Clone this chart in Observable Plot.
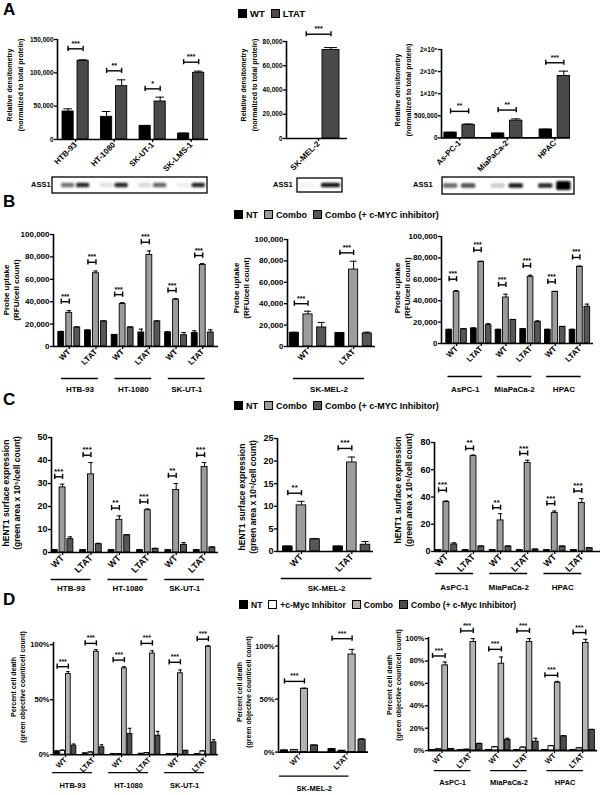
<!DOCTYPE html>
<html><head><meta charset="utf-8">
<script src="https://cdn.jsdelivr.net/npm/d3@7"></script>
<script src="https://cdn.jsdelivr.net/npm/@observablehq/plot@0.6"></script>
<style>
body{margin:0;background:#fff;}
#root{position:relative;width:600px;height:795px;overflow:hidden;font-family:"Liberation Sans",Arial,Helvetica,sans-serif;font-weight:bold;color:#000;background:#fff;}
.legend{display:flex;align-items:center;white-space:nowrap;height:10px;}
.sw{width:7px;height:7px;border:1.2px solid #000;margin-right:3px;}
.lab{margin-right:6px;}
.ytitle{position:absolute;transform:translate(-50%,-50%) rotate(-90deg);white-space:nowrap;text-align:center;}
.letter{position:absolute;font-size:17px;line-height:17px;}
</style></head><body><div id="root"></div><script>
const FONT='"Liberation Sans", Arial, Helvetica, sans-serif';

// ================= DATA =================
// Panel A: ASS1 relative densitometry (WT vs LTAT)
const A1_cells=["HTB-93","HT-1080","SK-UT-1","SK-LMS-1"];
const A1_WT=[42000,34000,20500,9000];
const A1_WT_err=[4000,8000,500,400];
const A1_LTAT=[118000,80000,57000,100000];
const A1_LTAT_err=[1500,9500,6500,2500];
const A1_sig=["***","**","*","***"];
const A1_bracket=[136000,103000,76000,116000];
const A1_blot=[[0.55,0.85],[0.12,0.85],[0.15,0.6],[0.07,0.85]];

const A2_cells=["SK-MEL-2"];
const A2_WT=[0];
const A2_WT_err=[0];
const A2_LTAT=[73000];
const A2_LTAT_err=[2000];
const A2_sig=["***"];
const A2_bracket=[86000];
const A2_blot=[[0.05,0.9]];

const A3_cells=["As-PC-1","MiaPaCa-2","HPAC"];
const A3_WT=[120000,100000,190000];
const A3_WT_err=[6000,5000,6000];
const A3_LTAT=[295000,390000,1400000];
const A3_LTAT_err=[20000,40000,110000];
const A3_sig=["**","**","***"];
const A3_bracket=[600000,630000,1700000];
const A3_blot=[[0.6,0.7],[0.2,0.9],[0.85,1]];

const A1_yticks=[0,50000,100000,150000];
const A1_ylabels=["0","50,000","100,000","150,000"];
const A2_yticks=[0,20000,40000,60000,80000];
const A2_ylabels=["0","20,000","40,000","60,000","80,000"];
const A3_yticks=[0,500000,1000000,1500000,2000000];
const A3_ylabels=["0","500,000","1×10⁶","2×10⁶","2×10⁶"];

// shared categories for B, C, D
const conds=["WT","LTAT"];
const sarcomaLines=["HTB-93","HT-1080","SK-UT-1"];
const melanomaLines=["SK-MEL-2"];
const pancLines=["AsPC-1","MiaPaCa-2","HPAC"];

// Panel B: probe uptake (RFU/cell count); order: line1 WT, line1 LTAT, line2 WT, ...
const B1_NT=[13000,14300,10400,12500,12500,12000];
const B1_NT_err=[500,500,300,3000,800,2000];
const B1_Combo=[30000,65400,37900,81800,41800,72800];
const B1_Combo_err=[2000,2000,1200,3500,1000,1200];
const B1_cMYC=[17000,22400,17000,22400,10100,12500];
const B1_cMYC_err=[500,500,500,500,2400,2400];
const B1_sig=["***","***","***","***","***","***"];
const B1_bracket=[40000,75200,46300,93100,49900,81200];

const B2_NT=[12800,12500];
const B2_NT_err=[500,500];
const B2_Combo=[30000,71900];
const B2_Combo_err=[3000,7800];
const B2_cMYC=[17800,12200];
const B2_cMYC_err=[4700,1200];
const B2_sig=["***","***"];
const B2_bracket=[40000,87500];

const B3_NT=[12800,14000,12800,13400,12800,12800];
const B3_NT_err=[500,600,500,500,500,500];
const B3_Combo=[48300,76300,43000,62300,48300,71700];
const B3_Combo_err=[1200,600,3100,1500,400,600];
const B3_cMYC=[13400,17100,22100,20200,15600,34300];
const B3_cMYC_err=[300,1500,300,1000,300,2500];
const B3_sig=["***","***","***","***","***","***"];
const B3_bracket=[60100,87200,54800,72600,57600,80400];

// Panel C: hENT1 surface expression
const C1_NT=[1,1,1,1,1,1];
const C1_NT_err=[0.2,0.2,0.2,0.2,0.2,0.2];
const C1_Combo=[28.3,34,14.2,18.4,27.2,37.2];
const C1_Combo_err=[1.4,5.1,1.7,0.5,2.8,1.9];
const C1_cMYC=[5.8,3.6,7.5,1.6,3.3,2.2];
const C1_cMYC_err=[1,0.4,0.2,0.2,1,0.2];
const C1_sig=["***","***","**","***","**","***"];
const C1_bracket=[32.9,42.3,19.3,22,33.3,42.3];

const C2_NT=[1.1,1.1];
const C2_NT_err=[0.1,0.1];
const C2_Combo=[10.2,19.7];
const C2_Combo_err=[0.9,1.2];
const C2_cMYC=[2.7,1.5];
const C2_cMYC_err=[0.15,0.7];
const C2_sig=["**","***"];
const C2_bracket=[12.9,22.8];

const C3_NT=[1,1,1,1,1,1];
const C3_NT_err=[0.2,0.2,0.2,0.2,0.2,0.2];
const C3_Combo=[36.3,70,22.8,65,28.2,35.6];
const C3_Combo_err=[0.8,0.8,4.9,2,1.5,3.2];
const C3_cMYC=[5.2,3.7,3.7,1.5,3.7,2.5];
const C3_cMYC_err=[1.2,0.3,0.3,0.2,0.2,0.2];
const C3_sig=["***","**","**","***","***","***"];
const C3_bracket=[44.9,75.6,32.1,71.9,35.1,44.4];

// Panel D: percent cell death
const D1_NT=[3,1.2,0.6,0.9,0.6,0.6];
const D1_NT_err=[0.5,0.3,0.2,0.2,0.2,0.2];
const D1_cMyc=[3.6,2.1,0.6,1.5,0.6,3];
const D1_cMyc_err=[0.6,0.3,0.2,0.3,0.2,0.5];
const D1_Combo=[73.3,93.6,78.5,92,74,98.2];
const D1_Combo_err=[2.2,1.9,1.5,2.5,3,0.8];
const D1_CC=[8.2,6.7,18.8,17.3,3.6,11.2];
const D1_CC_err=[1.5,2.3,5.2,3.9,0.3,2.4];
const D1_sig=["***","***","***","***","***","***"];
const D1_bracket=[80,101.2,86,101.2,84,105];

const D2_NT=[1.6,2.8];
const D2_NT_err=[0.2,0.3];
const D2_cMyc=[1.9,1.3];
const D2_cMyc_err=[0.2,0.2];
const D2_Combo=[59.7,92];
const D2_Combo_err=[0.6,4.9];
const D2_CC=[6.3,11.6];
const D2_CC_err=[0.3,1];
const D2_sig=["***","***"];
const D2_bracket=[66.7,107];

const D3_NT=[0.6,0.6,0.6,0.6,0.6,0.6];
const D3_NT_err=[0.2,0.2,0.2,0.2,0.2,0.2];
const D3_cMyc=[1.2,0.9,3,2.7,3.9,2.1];
const D3_cMyc_err=[0.2,0.2,0.5,0.4,0.6,0.4];
const D3_Combo=[76.1,97,77.6,97,60.6,96.1];
const D3_Combo_err=[3,3,6,3,1.2,3.3];
const D3_CC=[1.5,6,9.6,8,12.8,18.5];
const D3_CC_err=[0.3,0.5,1.4,3,0.4,0.5];
const D3_sig=["***","***","***","***","***","***"];
const D3_bracket=[84.5,106.9,90.4,106.9,67.2,105.4];

const B_yticks=[0,20000,40000,60000,80000,100000];
const B_ylabels=["0","20,000","40,000","60,000","80,000","100,000"];
const C1_yticks=[0,10,20,30,40,50];
const C2_yticks=[0,5,10,15,20,25];
const C3_yticks=[0,20,40,60,80];
const D12_yticks=[0,50,100];
const D3_yticks=[0,20,40,60,80,100];

// colours
const cBlack="#000", cLTAT="#4a4a4a", cCombo="#9c9c9c", cMYCc="#575757", cWhite="#fff", cComboD="#b3b3b3", cCCD="#4d4d4d";

// ================= HELPERS =================
const root=document.getElementById("root");
function place(el,x,y){el.style.position="absolute";el.style.left=x+"px";el.style.top=y+"px";root.appendChild(el);return el;}
function pairLabels(lines){const out=[];lines.forEach(()=>conds.forEach(c=>out.push(c)));return out;}

function barChart(o){
  const ml=52,mr=8,mt=26,mb=66;
  const W=o.xe-o.ax,H=o.y0-o.yt;
  const per=o.ymax/H;
  const bw=o.barW/2,cap=o.barW*(o.capF||0.38);
  const marks=[];
  o.series.forEach((s,si)=>{
    const rows=s.vals.map((v,ci)=>({x:ci+o.offs[si],v,e:s.errs[ci]}));
    marks.push(Plot.rectY(rows,{x1:d=>d.x-bw,x2:d=>d.x+bw,y1:0,y2:"v",fill:s.color,stroke:"#000",strokeWidth:0.9}));
    const er=rows.filter(d=>d.e>0&&d.v>0);
    marks.push(Plot.ruleX(er,{x:"x",y1:"v",y2:d=>d.v+d.e,stroke:"#000",strokeWidth:1}));
    marks.push(Plot.ruleY(er,{y:d=>d.v+d.e,x1:d=>d.x-cap,x2:d=>d.x+cap,stroke:"#000",strokeWidth:1}));
  });
  const br=o.brackets.map((b,ci)=>({x1:ci+o.offs[o.brA],x2:ci+o.offs[o.brB],y:b,sig:o.sig[ci]}));
  const t=2.6*per;
  marks.push(Plot.ruleY(br,{y:"y",x1:"x1",x2:"x2",strokeWidth:1.4}));
  marks.push(Plot.ruleX(br,{x:"x1",y1:d=>d.y-t,y2:d=>d.y+t,strokeWidth:1.4}));
  marks.push(Plot.ruleX(br,{x:"x2",y1:d=>d.y-t,y2:d=>d.y+t,strokeWidth:1.4}));
  marks.push(Plot.text(br,{x:d=>(d.x1+d.x2)/2,y:"y",text:"sig",dy:-3,lineAnchor:"bottom",fontSize:o.starFont||7}));
  marks.push(Plot.ruleX([o.xdom[0]],{strokeWidth:1.6}));
  marks.push(Plot.ruleY([0],{strokeWidth:1.6}));
  const ymap=new Map(o.yticks.map((v,i)=>[v,o.ylabels[i]]));
  marks.push(Plot.axisY({ticks:o.yticks,tickFormat:d=>ymap.get(d),tickSize:3,tickPadding:1,label:null,fontSize:o.tickFont,strokeWidth:1.3}));
  const xt=o.xlabels.map((_,i)=>i);
  marks.push(Plot.axisX({ticks:xt,tickFormat:d=>o.xlabels[Math.round(d)],tickRotate:-45,tickSize:3,tickPadding:1,label:null,fontSize:o.xFont,strokeWidth:1.3}));
  if(o.groups){
    const g=o.groups.map((lab,gi)=>({lab,c:gi*2+0.5+o.gShift}));
    marks.push(Plot.ruleY(g,{y:()=>-o.gLine*per,x1:d=>d.c-o.gHalf,x2:d=>d.c+o.gHalf,strokeWidth:1.3}));
    marks.push(Plot.text(g,{x:"c",y:()=>-o.gLab*per,text:"lab",fontSize:o.gFont||8}));
  }
  const svg=Plot.plot({
    width:ml+W+mr,height:mt+H+mb,marginLeft:ml,marginRight:mr,marginTop:mt,marginBottom:mb,
    x:{domain:o.xdom},y:{domain:[0,o.ymax]},
    style:{fontFamily:FONT,fontWeight:"bold",fontSize:o.tickFont+"px",overflow:"visible",background:"transparent",color:"#000"},
    marks
  });
  svg.style.maxWidth="none";
  place(svg,o.ax-ml,o.yt-mt);
  const sx=svg.scale("x");
  return {px:v=>o.ax-ml+sx.apply(v)};
}

function blot(ch,box,lanes,offs,barW,labelX,labelY,unitPx){
  const [x0,y0,x1,y1]=box;
  const svg=d3.create("svg").attr("width",x1-x0+4).attr("height",y1-y0+4).style("overflow","visible");
  const id="bl"+Math.round(x0);
  svg.append("defs").append("filter").attr("id",id).attr("x","-50%").attr("y","-100%").attr("width","200%").attr("height","300%")
    .append("feGaussianBlur").attr("stdDeviation",0.9);
  svg.append("rect").attr("x",1).attr("y",1).attr("width",x1-x0).attr("height",y1-y0).attr("fill","#fff").attr("stroke","#000").attr("stroke-width",1.3);
  const cy=(y1-y0)/2+1;
  lanes.forEach((pair,ci)=>pair.forEach((dark,si)=>{
    const cx=ch.px(ci+offs[si])-x0+1;
    const w=barW*unitPx+2;
    const h=dark>0.95?9:4.5;
    svg.append("rect").attr("x",cx-w/2).attr("y",cy-h/2).attr("width",w).attr("height",h).attr("rx",1.5)
      .attr("fill",`rgba(0,0,0,${dark})`).attr("filter",`url(#${id})`);
  }));
  place(svg.node(),x0-1,y0-1);
  const l=document.createElement("div");l.textContent="ASS1";l.style.fontSize="7.5px";l.style.lineHeight="10px";
  place(l,labelX,labelY-5);
}

function legend(x,yc,items,fs){
  const d=document.createElement("div");d.className="legend";d.style.fontSize=fs+"px";
  items.forEach(([lab,col])=>{
    const s=document.createElement("div");s.className="sw";s.style.background=col;d.appendChild(s);
    const t=document.createElement("span");t.className="lab";t.textContent=lab;d.appendChild(t);
  });
  place(d,x,yc-5);
}
function ytitle(cx,cy,l1,l2,fs,lh){
  const d=document.createElement("div");d.className="ytitle";
  d.style.fontSize=fs+"px";d.style.lineHeight=lh+"px";
  const a=document.createElement("div");a.textContent=l1;const b=document.createElement("div");b.textContent=l2;
  d.appendChild(a);d.appendChild(b);place(d,cx,cy);
}
function letter(ch,x,y){const d=document.createElement("div");d.className="letter";d.textContent=ch;place(d,x,y);}

// ================= PANEL A =================
letter("A",3,1);
legend(238,13.5,[["WT",cBlack],["LTAT",cLTAT]],9.5);
const offA1=[-0.195,0.195];
const a1=barChart({ax:57,xe:208,yt:39.3,y0:139.3,ymax:150000,xdom:[-0.47,3.45],barW:0.29,offs:offA1,
  series:[{vals:A1_WT,errs:A1_WT_err,color:cBlack},{vals:A1_LTAT,errs:A1_LTAT_err,color:cLTAT}],
  brackets:A1_bracket,sig:A1_sig,brA:0,brB:1,yticks:A1_yticks,ylabels:A1_ylabels,xlabels:A1_cells,tickFont:6.5,xFont:8,starFont:7});
blot(a1,[52,177,207,193],A1_blot,offA1,0.29,31,185,38.5);
ytitle(15,85,"Relative densitometry","(normalized to total protein)",7,11);

const offA2=[-0.255,0.26];
const a2=barChart({ax:286,xe:347,yt:40.7,y0:137.7,ymax:80000,xdom:[-0.667,0.604],barW:0.354,offs:offA2,
  series:[{vals:A2_WT,errs:A2_WT_err,color:cBlack},{vals:A2_LTAT,errs:A2_LTAT_err,color:cLTAT}],
  brackets:A2_bracket,sig:A2_sig,brA:0,brB:1,yticks:A2_yticks,ylabels:A2_ylabels,xlabels:A2_cells,tickFont:6.5,xFont:8,starFont:7});
blot(a2,[297,178,342,192],A2_blot,offA2,0.354,273,185,48);
ytitle(249,85,"Relative densitometry","(normalized to total protein)",7,11);

const offA3=[-0.19,0.19];
const a3=barChart({ax:441,xe:570,yt:49.3,y0:137.7,ymax:2000000,xdom:[-0.38,2.33],barW:0.26,offs:offA3,
  series:[{vals:A3_WT,errs:A3_WT_err,color:cBlack},{vals:A3_LTAT,errs:A3_LTAT_err,color:cLTAT}],
  brackets:A3_bracket,sig:A3_sig,brA:0,brB:1,yticks:A3_yticks,ylabels:A3_ylabels,xlabels:A3_cells,tickFont:6.5,xFont:8,starFont:7});
blot(a3,[442,177,574,194],A3_blot,offA3,0.26,413,185,47.5);
ytitle(403,90,"Relative densitometry","(normalized to total protein)",7,11);

// ================= PANEL B =================
letter("B",3,193);
legend(234,214.5,[["NT",cBlack],["Combo",cCombo],["Combo (+ c-MYC inhibitor)",cMYCc]],9);
const off3=[-0.3,0,0.3];
barChart({ax:53,xe:218,yt:234,y0:346,ymax:100000,xdom:[-0.59,5.59],barW:0.22,offs:off3,
  series:[{vals:B1_NT,errs:B1_NT_err,color:cBlack},{vals:B1_Combo,errs:B1_Combo_err,color:cCombo},{vals:B1_cMYC,errs:B1_cMYC_err,color:cMYCc}],
  brackets:B1_bracket,sig:B1_sig,brA:0,brB:1,yticks:B_yticks,ylabels:B_ylabels,xlabels:pairLabels(sarcomaLines),tickFont:8,xFont:8,starFont:7,
  groups:sarcomaLines,gShift:-0.1,gHalf:0.69,gLine:32,gLab:43,gFont:8});
ytitle(12,290,"Probe uptake","(RFU/cell count)",8,10);

barChart({ax:287,xe:375,yt:239,y0:346,ymax:100000,xdom:[-0.45,1.48],barW:0.2,offs:off3,
  series:[{vals:B2_NT,errs:B2_NT_err,color:cBlack},{vals:B2_Combo,errs:B2_Combo_err,color:cCombo},{vals:B2_cMYC,errs:B2_cMYC_err,color:cMYCc}],
  brackets:B2_bracket,sig:B2_sig,brA:0,brB:1,yticks:B_yticks,ylabels:B_ylabels,xlabels:pairLabels(melanomaLines),tickFont:8,xFont:8,starFont:7,
  groups:melanomaLines,gShift:-0.04,gHalf:0.78,gLine:32,gLab:43,gFont:8});
ytitle(242,288,"Probe uptake","(RFU/cell count)",8,10);

barChart({ax:441,xe:593,yt:236,y0:343,ymax:100000,xdom:[-0.61,5.55],barW:0.23,offs:off3,
  series:[{vals:B3_NT,errs:B3_NT_err,color:cBlack},{vals:B3_Combo,errs:B3_Combo_err,color:cCombo},{vals:B3_cMYC,errs:B3_cMYC_err,color:cMYCc}],
  brackets:B3_bracket,sig:B3_sig,brA:0,brB:1,yticks:B_yticks,ylabels:B_ylabels,xlabels:pairLabels(pancLines),tickFont:8,xFont:8,starFont:7,
  groups:pancLines,gShift:-0.15,gHalf:0.7,gLine:33,gLab:46,gFont:8});
ytitle(403,288,"Probe uptake","(RFU/cell count)",8,10);

// ================= PANEL C =================
letter("C",3,391);
legend(234,405.5,[["NT",cBlack],["Combo",cCombo],["Combo (+ c-MYC Inhibitor)",cMYCc]],9);
const offC=[-0.275,0,0.275];
barChart({ax:51,xe:218,yt:437,y0:552,ymax:50,xdom:[-0.39,5.49],barW:0.21,offs:offC,
  series:[{vals:C1_NT,errs:C1_NT_err,color:cBlack},{vals:C1_Combo,errs:C1_Combo_err,color:cCombo},{vals:C1_cMYC,errs:C1_cMYC_err,color:cMYCc}],
  brackets:C1_bracket,sig:C1_sig,brA:0,brB:1,yticks:C1_yticks,ylabels:C1_yticks.map(String),xlabels:pairLabels(sarcomaLines),tickFont:9,xFont:9,starFont:8,
  groups:sarcomaLines,gShift:-0.2,gHalf:0.7,gLine:27,gLab:36,gFont:8});
ytitle(12,493,"hENT1 surface expression","(green area x 10⁵/cell count)",8.5,11);

barChart({ax:277,xe:373,yt:438,y0:551,ymax:25,xdom:[-0.475,1.43],barW:0.19,offs:[-0.27,0,0.27],
  series:[{vals:C2_NT,errs:C2_NT_err,color:cBlack},{vals:C2_Combo,errs:C2_Combo_err,color:cCombo},{vals:C2_cMYC,errs:C2_cMYC_err,color:cMYCc}],
  brackets:C2_bracket,sig:C2_sig,brA:0,brB:1,yticks:C2_yticks,ylabels:C2_yticks.map(String),xlabels:pairLabels(melanomaLines),tickFont:9,xFont:9,starFont:8,
  groups:melanomaLines,gShift:0,gHalf:0.9,gLine:27,gLab:37,gFont:8});
ytitle(248,497,"hENT1 surface expression","(green area x 10⁵/cell count)",8.5,11);

barChart({ax:434,xe:600,yt:442,y0:551,ymax:80,xdom:[-0.44,5.69],barW:0.22,offs:[-0.29,0,0.29],
  series:[{vals:C3_NT,errs:C3_NT_err,color:cBlack},{vals:C3_Combo,errs:C3_Combo_err,color:cCombo},{vals:C3_cMYC,errs:C3_cMYC_err,color:cMYCc}],
  brackets:C3_bracket,sig:C3_sig,brA:0,brB:1,yticks:C3_yticks,ylabels:C3_yticks.map(String),xlabels:pairLabels(pancLines),tickFont:9,xFont:9,starFont:8,
  groups:pancLines,gShift:-0.2,gHalf:0.7,gLine:22,gLab:36,gFont:8});
ytitle(404,490,"hENT1 surface expression","(green area x 10⁵/cell count)",8.5,11);

// ================= PANEL D =================
letter("D",3,591);
legend(239,604.5,[["NT",cBlack],["+c-Myc Inhibitor",cWhite],["Combo",cComboD],["Combo (+ c-Myc Inhibitor)",cCCD]],8.5);
const pct=d=>d+"%";
barChart({ax:53,xe:218,yt:641.8,y0:754,ymax:102,xdom:[-0.43,5.46],barW:0.17,offs:[-0.3,-0.1,0.1,0.3],
  series:[{vals:D1_NT,errs:D1_NT_err,color:cBlack},{vals:D1_cMyc,errs:D1_cMyc_err,color:cWhite},{vals:D1_Combo,errs:D1_Combo_err,color:cComboD},{vals:D1_CC,errs:D1_CC_err,color:cCCD}],
  brackets:D1_bracket,sig:D1_sig,brA:0,brB:2,yticks:D12_yticks,ylabels:D12_yticks.map(pct),xlabels:pairLabels(sarcomaLines),tickFont:7.5,xFont:7.5,starFont:7,
  groups:sarcomaLines,gShift:-0.25,gHalf:0.71,gLine:18,gLab:31,gFont:7.5});
ytitle(18,687,"Percent cell death","(green objective count/cell count)",7,9);

barChart({ax:278,xe:368,yt:635.4,y0:752,ymax:110,xdom:[-0.44,1.45],barW:0.15,offs:[-0.315,-0.105,0.105,0.315],
  series:[{vals:D2_NT,errs:D2_NT_err,color:cBlack},{vals:D2_cMyc,errs:D2_cMyc_err,color:cWhite},{vals:D2_Combo,errs:D2_Combo_err,color:cComboD},{vals:D2_CC,errs:D2_CC_err,color:cCCD}],
  brackets:D2_bracket,sig:D2_sig,brA:0,brB:2,yticks:D12_yticks,ylabels:D12_yticks.map(pct),xlabels:pairLabels(melanomaLines),tickFont:7.5,xFont:7.5,starFont:7,
  groups:melanomaLines,gShift:-0.19,gHalf:0.73,gLine:24,gLab:36,gFont:7.5});
ytitle(244,692,"Percent cell death","(green objective count/cell count)",7,9);

barChart({ax:428,xe:597,yt:636.9,y0:750,ymax:101,xdom:[-0.48,5.53],barW:0.2,offs:[-0.3375,-0.1125,0.1125,0.3375],
  series:[{vals:D3_NT,errs:D3_NT_err,color:cBlack},{vals:D3_cMyc,errs:D3_cMyc_err,color:cWhite},{vals:D3_Combo,errs:D3_Combo_err,color:cComboD},{vals:D3_CC,errs:D3_CC_err,color:cCCD}],
  brackets:D3_bracket,sig:D3_sig,brA:0,brB:2,yticks:D3_yticks,ylabels:D3_yticks.map(pct),xlabels:pairLabels(pancLines),tickFont:7.5,xFont:7.5,starFont:7,
  groups:pancLines,gShift:-0.12,gHalf:0.65,gLine:20,gLab:32,gFont:7.5});
ytitle(394,685,"Percent cell death","(green objective count/cell count)",7,9);
</script></body></html>
